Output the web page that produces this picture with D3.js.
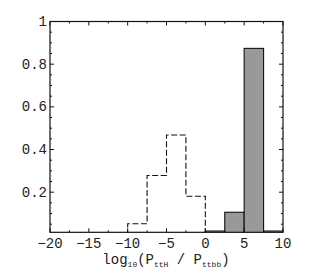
<!DOCTYPE html>
<html>
<head>
<meta charset="utf-8">
<script src="https://cdn.jsdelivr.net/npm/d3@7"></script>
<style>
  body { margin: 0; background: #fff; }
  svg { display: block; }
  text { font-family: "Liberation Mono", "Courier New", monospace; fill: #222; }
</style>
</head>
<body>
<svg width="332" height="274"></svg>
<script>
// bin edges (log10 ratio), width 2.5
const binEdges = [-10, -7.5, -5, -2.5, 0, 2.5, 5, 7.5, 10];
// dashed histogram (ttbb events), bins from -10 to 0
const dashedValues = [0.052, 0.278, 0.468, 0.181];
// solid grey histogram (ttH events), bins from 0 to 10
const solidValues = [0.018, 0.106, 0.874, 0.018];
const xTicks = [-20, -15, -10, -5, 0, 5, 10];
const yTicks = [0.2, 0.4, 0.6, 0.8, 1];

const svg = d3.select("svg");
const plotLeft = 50, plotRight = 283, plotTop = 21.5, plotBottom = 232.3;

const x = d3.scaleLinear().domain([-20, 10]).range([plotLeft, plotRight]);
const y = d3.scaleLinear().domain([0.012, 1]).range([plotBottom, plotTop]);

const plot = svg.append("g");
plot.append("clipPath").attr("id", "clip")
    .append("rect").attr("x", plotLeft).attr("y", plotTop)
    .attr("width", plotRight - plotLeft).attr("height", plotBottom - plotTop);

// solid bars
plot.append("g").attr("clip-path", "url(#clip)")
    .selectAll("rect")
    .data(solidValues)
    .join("rect")
    .attr("x", (d, i) => x(binEdges[i + 4]))
    .attr("width", (d, i) => x(binEdges[i + 5]) - x(binEdges[i + 4]))
    .attr("y", d => y(d))
    .attr("height", d => Math.max(0, y(0.012) - y(d)) + 2)
    .attr("fill", "#999")
    .attr("stroke", "#111")
    .attr("stroke-width", 1.1);

// dashed step outline
const line = d3.line().x(d => x(d[0])).y(d => y(d[1]));
const stepPts = [[-20, 0], [-10, 0]];
dashedValues.forEach((v, i) => {
    stepPts.push([binEdges[i], v]);
    stepPts.push([binEdges[i + 1], v]);
});
stepPts.push([0, 0]);
plot.append("path").attr("clip-path", "url(#clip)")
    .attr("d", line(stepPts))
    .attr("fill", "none")
    .attr("stroke", "#111")
    .attr("stroke-width", 1.1)
    .attr("stroke-dasharray", "6,2.5");

// frame
plot.append("rect")
    .attr("x", plotLeft).attr("y", plotTop)
    .attr("width", plotRight - plotLeft).attr("height", plotBottom - plotTop)
    .attr("fill", "none").attr("stroke", "#111").attr("stroke-width", 1.2);

// ticks (inward, on all four sides)
const ticks = svg.append("g").attr("stroke", "#111").attr("stroke-width", 1);
d3.range(-20, 10.01, 2.5).forEach(v => {
    const len = v % 5 === 0 ? 4 : 2;
    ticks.append("line").attr("x1", x(v)).attr("x2", x(v)).attr("y1", plotBottom).attr("y2", plotBottom - len);
    ticks.append("line").attr("x1", x(v)).attr("x2", x(v)).attr("y1", plotTop).attr("y2", plotTop + len);
});
d3.range(0.05, 1.001, 0.05).forEach(v => {
    const major = Math.abs(v * 5 - Math.round(v * 5)) < 1e-6;
    const len = major ? 4 : 2;
    if (y(v) > plotBottom) return;
    ticks.append("line").attr("y1", y(v)).attr("y2", y(v)).attr("x1", plotLeft).attr("x2", plotLeft + len);
    ticks.append("line").attr("y1", y(v)).attr("y2", y(v)).attr("x1", plotRight).attr("x2", plotRight - len);
});

// tick labels
svg.append("g").selectAll("text")
    .data(xTicks)
    .join("text")
    .attr("x", d => x(d))
    .attr("y", 248)
    .attr("text-anchor", "middle")
    .attr("font-size", 14)
    .text(d => d < 0 ? "\u2212" + Math.abs(d) : d);

svg.append("g").selectAll("text")
    .data(yTicks)
    .join("text")
    .attr("x", plotLeft - 3)
    .attr("y", d => y(d) + 4.5)
    .attr("text-anchor", "end")
    .attr("font-size", 14)
    .text(d => d === 1 ? "1" : d3.format(".1f")(d));

// axis label
const lbl = svg.append("text")
    .attr("x", 166).attr("y", 264)
    .attr("text-anchor", "middle")
    .attr("font-size", 14);
lbl.append("tspan").text("log");
lbl.append("tspan").attr("font-size", 8).attr("dy", 3).text("10");
lbl.append("tspan").attr("dy", -3).text("(P");
lbl.append("tspan").attr("font-size", 8).attr("dy", 3).text("ttH");
lbl.append("tspan").attr("dy", -3).text(" / P");
lbl.append("tspan").attr("font-size", 8).attr("dy", 3).text("ttbb");
lbl.append("tspan").attr("dy", -3).text(")");
</script>
</body>
</html>
